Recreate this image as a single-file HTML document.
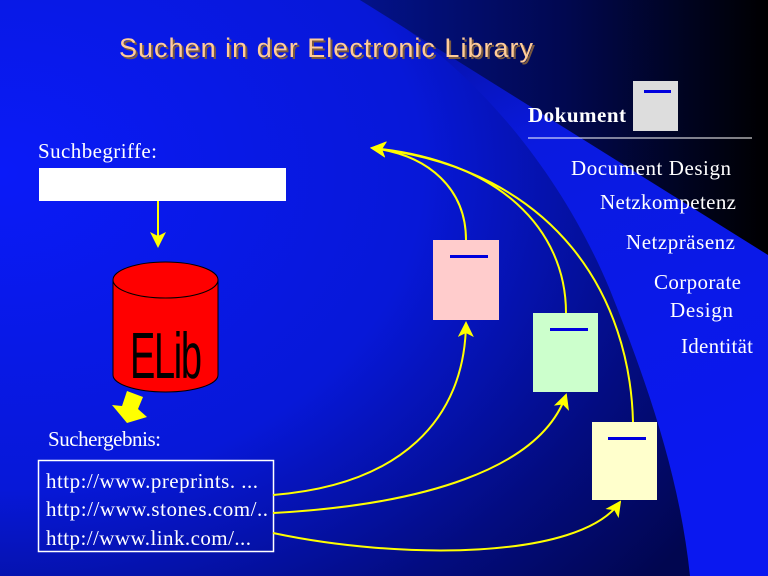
<!DOCTYPE html>
<html><head><meta charset="utf-8"><style>
body{margin:0;width:768px;height:576px;overflow:hidden;}
svg{display:block}
.s{font-family:"Liberation Serif",serif;fill:#fff;font-size:21px}
</style></head><body>
<svg width="768" height="576" viewBox="0 0 768 576">
<defs>
<radialGradient id="bg" cx="0" cy="0.3" r="1.1">
<stop offset="0" stop-color="#0a1af8"/><stop offset="0.5" stop-color="#0718d8"/><stop offset="0.8" stop-color="#030c80"/><stop offset="1" stop-color="#010650"/></radialGradient>
<linearGradient id="rb" x1="0" y1="0" x2="0.3" y2="1"><stop offset="0" stop-color="#040e90"/><stop offset="0.35" stop-color="#0a1ae0"/><stop offset="1" stop-color="#0a18f0"/></linearGradient>
<linearGradient id="tk" x1="0" y1="0" x2="1" y2="0"><stop offset="0" stop-color="#03128a"/><stop offset="0.5" stop-color="#010850"/><stop offset="1" stop-color="#000000"/></linearGradient>
<marker id="ab" markerWidth="16" markerHeight="16" refX="14" refY="8" orient="auto" markerUnits="userSpaceOnUse"><path d="M0,0 L16,8 L0,16 L4,8Z" fill="#ffff00"/></marker>
</defs>
<rect width="768" height="576" fill="url(#bg)"/>
<path d="M360,0 C470,60 560,170 610,290 C650,390 680,480 690,576 L768,576 L768,0Z" fill="url(#rb)"/>
<path d="M360,0 L768,0 L768,255 Z" fill="url(#tk)"/>
<text x="121" y="59" font-family="Liberation Sans,sans-serif" font-size="27" fill="#7a5a40" textLength="414">Suchen in der Electronic Library</text>
<text x="119" y="57" font-family="Liberation Sans,sans-serif" font-size="27" fill="#ffcc99" textLength="414">Suchen in der Electronic Library</text>
<text class="s" x="38" y="158" textLength="119">Suchbegriffe:</text>
<rect x="39" y="168" width="247" height="33" fill="#fff"/>
<line x1="158" y1="201" x2="158" y2="246" stroke="#ffff00" stroke-width="2" marker-end="url(#ab)"/>
<path d="M113,280 L113,375 A52.5,17 0 0 0 218,375 L218,280Z" fill="#ff0000" stroke="#000" stroke-width="1"/>
<ellipse cx="165.5" cy="280" rx="52.5" ry="18" fill="#ff0000" stroke="#000" stroke-width="1"/>
<text transform="translate(166,378) scale(1,1.7)" x="0" y="0" text-anchor="middle" font-family="Liberation Sans,sans-serif" font-size="38" fill="#000" textLength="72">ELib</text>
<path d="M127,391 L143,397 L138,409 L147,417 L127,423 L112,405 L122,406Z" fill="#ffff00"/>
<text class="s" x="48" y="446" textLength="113">Suchergebnis:</text>
<rect x="38.5" y="460.5" width="235" height="91" fill="none" stroke="#fff" stroke-width="1.5"/>
<text class="s" x="46" y="488" textLength="212">http://www.preprints. ...</text>
<text class="s" x="46" y="516" textLength="222">http://www.stones.com/..</text>
<text class="s" x="46" y="545" textLength="205">http://www.link.com/...</text>
<rect x="433" y="240" width="66" height="80" fill="#ffcccc"/><rect x="450" y="255" width="38" height="3" fill="#0000dd"/>
<rect x="533" y="313" width="65" height="79" fill="#ccffcc"/><rect x="550" y="328" width="38" height="3" fill="#0000dd"/>
<rect x="592" y="422" width="65" height="78" fill="#ffffcc"/><rect x="608" y="437" width="38" height="3" fill="#0000dd"/>
<rect x="633" y="81" width="45" height="50" fill="#dddddd"/><rect x="644" y="90" width="27" height="3" fill="#0000dd"/>
<g fill="none" stroke="#ffff00" stroke-width="2">
<path d="M466,240 C466,190 430,155 372,148" marker-end="url(#ab)"/>
<path d="M566,313 C566,230 500,160 372,148" marker-end="url(#ab)"/>
<path d="M633,422 C630,300 560,170 372,148" marker-end="url(#ab)"/>
<path d="M273,495 C400,485 465,420 466,323" marker-end="url(#ab)"/>
<path d="M273,513 C420,505 540,470 566,395" marker-end="url(#ab)"/>
<path d="M273,533 C400,560 580,560 620,502" marker-end="url(#ab)"/>
</g>
<text x="528" y="122" font-family="Liberation Serif,serif" font-size="21" font-weight="bold" fill="#fff" textLength="98">Dokument</text>
<line x1="528" y1="138" x2="752" y2="138" stroke="#fff" stroke-width="1"/>
<text class="s" x="571" y="175" textLength="160">Document Design</text>
<text class="s" x="600" y="209" textLength="136">Netzkompetenz</text>
<text class="s" x="626" y="249" textLength="109">Netzpräsenz</text>
<text class="s" x="654" y="289" textLength="87">Corporate</text>
<text class="s" x="670" y="317" textLength="63">Design</text>
<text class="s" x="681" y="353" textLength="72">Identität</text>
</svg>
</body></html>
